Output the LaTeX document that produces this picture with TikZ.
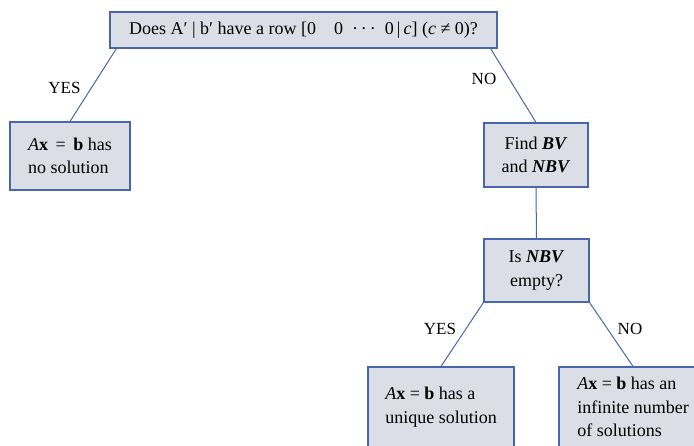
\documentclass[tikz,border=0pt]{standalone}
\usepackage{fontspec}
\setmainfont{Liberation Serif}
\definecolor{boxblue}{RGB}{72,102,170}
\definecolor{boxgray}{RGB}{219,222,230}
\newcommand{\chartfont}{\fontsize{18}{23.5}\selectfont}
\newcommand{\answerfont}{\fontsize{17}{20}\selectfont}

\begin{document}
\begin{tikzpicture}[
    x=1pt, y=-1pt,
    question/.style={rectangle, draw=boxblue, fill=boxgray, line width=1.2pt, inner sep=0pt, align=center, font=\chartfont},
    result/.style={rectangle, draw=boxblue, fill=boxgray, line width=1.2pt, inner sep=0pt, align=left, font=\chartfont},
    branch/.style={draw=boxblue, line width=1pt},
    answer/.style={font=\answerfont, inner sep=0pt}
]

\path[use as bounding box, clip] (0,0) rectangle (694,446);

% Decision boxes
\node[question, minimum width=387, minimum height=36] (rowtest) at (303.5,30)
    {Does A′ | b′ have a row [0\quad 0\enspace ·\,·\,·\enspace 0\,|\,\textit{c}] (\textit{c} ≠ 0)?};
\node[question, minimum width=104, minimum height=64] (findbv) at (536,155)
    {Find \textbf{\textit{BV}}\\and \textbf{\textit{NBV}}};
\node[question, minimum width=105, minimum height=63] (nbvempty) at (536.5,270.5)
    {Is \textbf{\textit{NBV}}\\empty?};

% Outcomes
\node[result, minimum width=120, minimum height=68] (nosol) at (70,156)
    {\textit{A}\textbf{x} \,=\, \textbf{b} has\\no solution};
\node[result, minimum width=146, minimum height=80] (unique) at (441,407)
    {\textit{A}\textbf{x} = \textbf{b} has a\\unique solution};
\node[result, minimum width=148, minimum height=80] (infinite) at (633,407)
    {\textit{A}\textbf{x} = \textbf{b} has an\\infinite number\\of solutions};

% Branches
\draw[branch] ([xshift=7pt]rowtest.south west) -- (nosol.north);
\draw[branch] ([xshift=-7pt]rowtest.south east) -- (findbv.north);
\draw[branch] (findbv.south) -- (nbvempty.north);
\draw[branch] (nbvempty.south west) -- (unique.north);
\draw[branch] (nbvempty.south east) -- (infinite.north);

% Branch labels
\node[answer] (yes1) at (64.5,88) {YES};
\node[answer] (no1) at (484,79) {NO};
\node[answer] (yes2) at (440,329) {YES};
\node[answer] (no2) at (630,329) {NO};

\end{tikzpicture}
\end{document}
